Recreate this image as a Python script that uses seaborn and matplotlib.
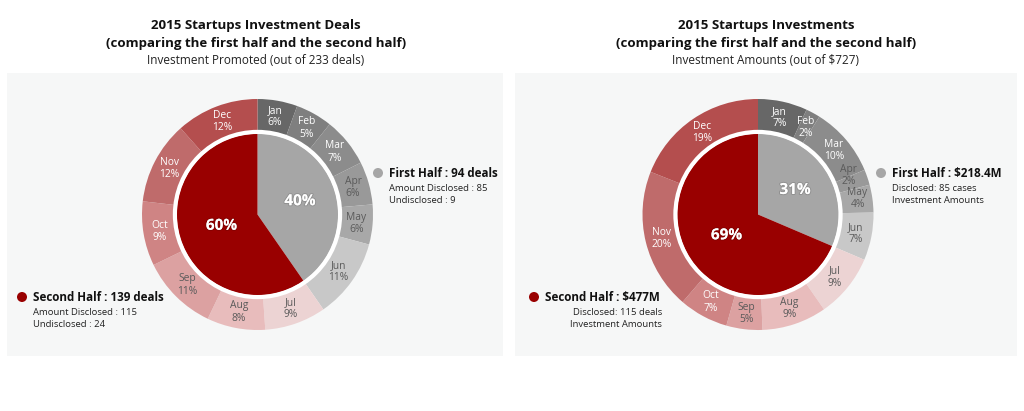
import matplotlib
matplotlib.use("Agg")
import matplotlib.pyplot as plt
import matplotlib.patheffects as pe
from matplotlib.patches import Rectangle, Circle
import seaborn as sns

# ---- data ----
months = ["Jan", "Feb", "Mar", "Apr", "May", "Jun",
          "Jul", "Aug", "Sep", "Oct", "Nov", "Dec"]
halves = ["First Half", "Second Half"]

deal_counts = [13, 12, 16, 14, 13, 26, 20, 19, 25, 21, 27, 27]
deal_halves = [94, 139]

amount_values = [48, 14, 68, 15, 27, 46.4, 62, 63, 35, 48, 137, 132]
amount_halves = [218.4, 477]

ring_colors = ["#676767", "#7f7f7f", "#8c8c8c", "#999999", "#a8a8a8", "#c8c8c8",
               "#ecd3d3", "#e8bcbc", "#dca1a1", "#cf8484", "#bf6b6b", "#b44e4e"]
dark_months = ["Jan", "Feb", "Mar", "Oct", "Nov", "Dec"]
half_colors = ["#a6a6a6", "#990000"]

sns.set_theme(style="white")
plt.rcParams["font.family"] = ["Open Sans", "DejaVu Sans"]

W, H = 1024, 411
fig = plt.figure(figsize=(W / 100, H / 100), dpi=100)
fig.patch.set_facecolor("white")

# background axes in pixel coordinates
bg = fig.add_axes([0, 0, 1, 1], zorder=0)
bg.set_xlim(0, W)
bg.set_ylim(H, 0)
bg.axis("off")
bg.add_patch(Rectangle((7, 73), 496, 283, color="#f6f7f7", lw=0))
bg.add_patch(Rectangle((515, 73), 502, 283, color="#f6f7f7", lw=0))


def donut(cx, cy, R, values, half_values, nudge=None):
    nudge = nudge or {}
    ax = fig.add_axes([(cx - R) / W, (H - cy - R) / H, 2 * R / W, 2 * R / H], zorder=2)
    ax.axis("off")
    total = sum(values)
    labels = [f"{m}\n{round(v / total * 100)}%" for m, v in zip(months, values)]
    wedges, texts = ax.pie(values, radius=1, colors=ring_colors, startangle=90,
                           counterclock=False, labels=labels, labeldistance=0.86,
                           wedgeprops=dict(width=0.28, edgecolor="none"))
    for t, m in zip(texts, months):
        t.set_ha("center")
        t.set_va("center")
        t.set_fontsize(7.4)
        t.set_linespacing(1.15)
        t.set_color("white" if m in dark_months else "#5a5a5a")
        if m in nudge:
            x, y = t.get_position()
            t.set_position((x + nudge[m][0], y + nudge[m][1]))
    inner, itexts, ptexts = ax.pie(half_values, radius=0.70, colors=half_colors, startangle=90,
                                   counterclock=False,
                                   autopct=lambda p: f"{round(p)}%", pctdistance=0.55,
                                   wedgeprops=dict(edgecolor="none"))
    ptexts[1].set_position([c * 0.85 for c in ptexts[1].get_position()])
    for t in ptexts:
        t.set_color("white")
        t.set_fontsize(11)
        t.set_fontweight("bold")
        t.set_path_effects([pe.withStroke(linewidth=1.5, foreground=(0, 0, 0, 0.12))])
    ax.add_patch(Circle((0, 0), 0.715, fill=False, ec="white", lw=3, zorder=5))
    ax.set_xlim(-1, 1)
    ax.set_ylim(-1, 1)
    ax.set_aspect("equal")
    return ax


donut(257.5, 214.5, 115.5, deal_counts, deal_halves)
donut(758, 214.5, 115.5, amount_values, amount_halves,
      nudge={"Apr": (-0.03, 0.06), "May": (0.01, 0.02)})

# titles
for x, t1, t3 in [(256, "2015 Startups Investment Deals", "Investment Promoted (out of 233 deals)"),
                  (766, "2015 Startups Investments", "Investment Amounts (out of $727)")]:
    bg.text(x, 25, t1, ha="center", va="center", fontsize=9.5, fontweight="bold", color="#111111")
    bg.text(x, 44, "(comparing the first half and the second half)", ha="center", va="center",
            fontsize=9.5, fontweight="bold", color="#111111")
    bg.text(x, 60, t3, ha="center", va="center", fontsize=8.5, color="#222222")


# legends
def legend(x, y, color, head, lines, ha="left", x_sub=None):
    bg.add_patch(Circle((x - 11, y), 5, color=color, lw=0))
    bg.text(x, y, head, ha="left", va="center", fontsize=8.4, fontweight="bold", color="#111111")
    xs = x if x_sub is None else x_sub
    for i, ln in enumerate(lines):
        bg.text(xs, y + 15 + i * 12.5, ln, ha=ha, va="center", fontsize=6.8, color="#222222")


legend(389, 173, half_colors[0], f"{halves[0]} : {deal_halves[0]} deals",
       ["Amount Disclosed : 85", "Undisclosed : 9"])
legend(33, 297, half_colors[1], f"{halves[1]} : {deal_halves[1]} deals",
       ["Amount Disclosed : 115", "Undisclosed : 24"])
legend(892, 173, half_colors[0], f"{halves[0]} : ${amount_halves[0]}M",
       ["Disclosed: 85 cases", "Investment Amounts"])
legend(545, 297, half_colors[1], f"{halves[1]} : ${amount_halves[1]:g}M",
       ["Disclosed: 115 deals", "Investment Amounts"], ha="right", x_sub=662)

fig.savefig("out.png", dpi=100, facecolor="white")
